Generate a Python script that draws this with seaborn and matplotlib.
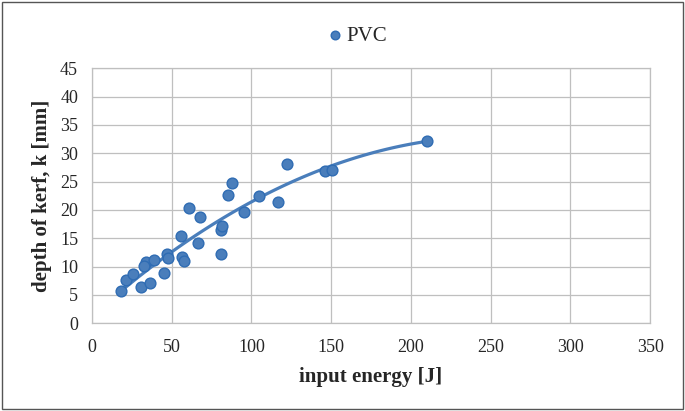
import numpy as np
import pandas as pd
import seaborn as sns
import matplotlib.pyplot as plt
from matplotlib.patches import Rectangle

energy = [18.0, 21.3, 25.9, 30.7, 36.6, 33.9, 32.8, 38.9, 45.2, 46.8,
          47.4, 55.6, 56.7, 57.9, 60.9, 67.8, 66.5, 80.9, 80.9, 81.6,
          85.5, 87.6, 95.4, 104.8, 116.7, 122.3, 146.2, 150.4, 210.2]
depth = [5.7, 7.6, 8.7, 6.45, 7.15, 10.85, 10.1, 11.1, 8.8, 12.3,
         11.6, 15.4, 11.7, 11.0, 20.4, 18.7, 14.1, 12.2, 16.4, 17.25,
         22.6, 24.75, 19.7, 22.5, 21.4, 28.1, 26.9, 27.0, 32.15]
x_ticks = [0, 50, 100, 150, 200, 250, 300, 350]
y_ticks = [0, 5, 10, 15, 20, 25, 30, 35, 40, 45]

df = pd.DataFrame({'energy': energy, 'depth': depth})

sns.set_style('white')
plt.rcParams['font.family'] = ['Liberation Serif', 'DejaVu Serif']

fig = plt.figure(figsize=(6.85, 4.11), dpi=100)
ax = fig.add_axes([0.1343, 0.2134, 0.8147, 0.6204])

# trend line (2nd order polynomial, like excel)
sns.regplot(x='energy', y='depth', data=df, order=2, ci=None, scatter=False,
            line_kws={'color': '#4a7ebb', 'lw': 2.3, 'zorder': 2}, ax=ax)
sns.scatterplot(x='energy', y='depth', data=df, color='#4a7ebb', s=60,
                edgecolor='#2f6cb3', linewidth=1.0, zorder=3, ax=ax, label='PVC')

ax.set_xlim(0, 350)
ax.set_ylim(0, 45)
ax.set_xticks(x_ticks)
ax.set_yticks(y_ticks)
ax.grid(True, color='#bfbfbf', lw=0.9)
ax.set_axisbelow(True)
for s in ax.spines.values():
    s.set_color('#bfbfbf')
    s.set_linewidth(0.9)
ax.tick_params(axis='both', labelsize=13, length=0)
ax.tick_params(axis='x', pad=11)
ax.tick_params(axis='y', pad=10)

ax.set_xlabel('input energy [J]', fontsize=15, fontweight='bold', labelpad=8)
ax.set_ylabel('depth of kerf, k [mm]', fontsize=15, fontweight='bold', labelpad=6)

leg = ax.legend(loc='center', bbox_to_anchor=(0.476, 1.127), frameon=False,
                fontsize=15, handlelength=0.6, handletextpad=0.25, markerscale=0.8)

# outer border
fig.patches.append(Rectangle((0.003, 0.004), 0.994, 0.992, transform=fig.transFigure,
                             fill=False, edgecolor='#555555', lw=1.0))

plt.savefig('out.png', dpi=100)
